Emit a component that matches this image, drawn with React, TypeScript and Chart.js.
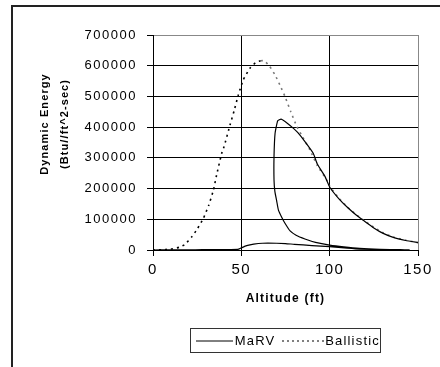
import React, { useEffect, useRef } from 'react';
import { Chart, registerables } from 'chart.js';

Chart.register(...registerables);

// MaRV trajectory (altitude in ft, dynamic energy in Btu/ft^2-sec), in path order
const marvAltitude = [
  150, 143, 136, 130, 125, 119, 115, 110, 105, 100, 97.4, 93, 90.7, 86, 82, 79.5, 76, 72.5,
  70.6, 69.1, 68.5, 68.5, 69, 70, 71, 73, 74.7, 77.6, 81, 86, 92, 100, 108, 117, 128.5, 140, 145,
  130, 117, 110, 100, 90, 80, 75, 70, 62, 57, 53, 50, 48, 40, 28, 20, 10, 0,
];
const marvEnergy = [
  24000, 31000, 41000, 55000, 72000, 97000, 114000, 139000, 168000, 205000, 239000, 280000, 315000,
  353000, 382000, 396000, 413000, 426000, 421000, 380000, 304000, 228000, 190000, 160000, 130000,
  105000, 87000, 62000, 48000, 36000, 25000, 16000, 10000, 5000, 2000, 1000, 500,
  1500, 3000, 6000, 11000, 14500, 18500, 21000, 22000, 22000, 19000, 14000, 7000, 2000, 1500, 1000,
  500, 200, 0,
];

// Ballistic trajectory
const ballisticAltitude = [
  0, 5, 10, 15, 18, 22, 25, 28.5, 31.5, 34.2, 36, 38.9, 40.2, 43.6, 46, 48.3, 51.1, 54.9, 58.3, 61,
  63, 66, 69.1, 72, 74.7, 78, 81.4, 84, 88.9, 93, 98.3, 100, 105, 110, 115, 119, 125, 130, 136, 143,
  150,
];
const ballisticEnergy = [
  0, 800, 3000, 9000, 18000, 43000, 68000, 103000, 145000, 195000, 244000, 315000, 336000, 407000,
  455000, 505000, 554000, 592000, 611000, 616000, 616000, 598000, 570000, 535000, 500000, 450000,
  402000, 375000, 325000, 275000, 228000, 208000, 170000, 140000, 115000, 98000, 74000, 57000, 42000,
  32000, 24000,
];

const xTickValues = [0, 50, 100, 150];
const yTickValues = [0, 100000, 200000, 300000, 400000, 500000, 600000, 700000];

const seriesNames = ['MaRV', 'Ballistic'];
const xTitle = 'Altitude (ft)';
const yTitleLines = ['Dynamic Energy', '(Btu//ft^2-sec)'];

const FONT = "Arial, 'Liberation Sans', sans-serif";

const titlePlugin = {
  id: 'axisTitles',
  beforeDraw(chart: any) {
    chart.ctx.letterSpacing = '1.5px';
  },
  afterDraw(chart: any) {
    const { ctx, chartArea } = chart;
    ctx.save();
    ctx.fillStyle = '#000';
    ctx.textAlign = 'center';
    ctx.textBaseline = 'middle';
    ctx.font = `bold 12px ${FONT}`;
    ctx.letterSpacing = '1.2px';
    ctx.fillText(xTitle, (chartArea.left + chartArea.right) / 2, chartArea.bottom + 49);
    ctx.font = `bold 11px ${FONT}`;
    ctx.letterSpacing = '1.1px';
    const cy = chartArea.top + 89;
    yTitleLines.forEach((line, i) => {
      ctx.save();
      ctx.translate(45 + i * 20, cy);
      ctx.rotate(-Math.PI / 2);
      ctx.fillText(line, 0, 0);
      ctx.restore();
    });
    ctx.restore();
  },
};

export default function App() {
  const canvasRef = useRef<HTMLCanvasElement | null>(null);

  useEffect(() => {
    const canvas = canvasRef.current;
    if (!canvas) return;
    const chart = new Chart(canvas, {
      type: 'scatter',
      data: {
        datasets: [
          {
            label: seriesNames[0],
            data: marvAltitude.map((x, i) => ({ x, y: marvEnergy[i] })),
            showLine: true,
            borderColor: '#000',
            borderWidth: 1.2,
            pointRadius: 0,
            tension: 0.15,
            order: 0,
          },
          {
            label: seriesNames[1],
            data: ballisticAltitude.map((x, i) => ({ x, y: ballisticEnergy[i] })),
            showLine: true,
            borderColor: '#000',
            borderWidth: 1.6,
            borderDash: [2, 4],
            pointRadius: 0,
            tension: 0.15,
            order: 1,
            segment: {
              borderColor: (c: any) => (c.p0.parsed.x >= 61 ? '#777' : '#000'),
            },
          },
        ],
      },
      options: {
        animation: false,
        responsive: false,
        devicePixelRatio: 1,
        layout: { padding: { left: 0, top: 35, right: 22, bottom: 0 } },
        plugins: {
          legend: { display: false },
          tooltip: { enabled: false },
        },
        scales: {
          x: {
            type: 'linear',
            min: 0,
            max: 150,
            afterBuildTicks: (s: any) => {
              s.ticks = xTickValues.map((value) => ({ value }));
            },
            afterFit: (s: any) => {
              s.height = 117;
            },
            ticks: {
              color: '#000',
              font: { family: FONT, size: 15 },
              padding: 5,
              maxRotation: 0,
              callback: (v: any) => String(v),
            },
            grid: {
              color: (c: any) => (c.tick && c.tick.value === 150 ? '#888' : '#000'),
              tickColor: '#000',
              tickLength: 6,
              lineWidth: 1,
            },
            border: { color: '#000', width: 1 },
          },
          y: {
            type: 'linear',
            min: 0,
            max: 700000,
            afterBuildTicks: (s: any) => {
              s.ticks = yTickValues.map((value) => ({ value }));
            },
            afterFit: (s: any) => {
              s.width = 153;
            },
            ticks: {
              color: '#000',
              font: { family: FONT, size: 13 },
              padding: 10,
              callback: (v: any) => String(v),
            },
            grid: {
              color: (c: any) => (c.tick && c.tick.value === 700000 ? '#888' : '#000'),
              tickColor: '#000',
              tickLength: 6,
              lineWidth: 1,
            },
            border: { color: '#000', width: 1 },
          },
        },
      },
      plugins: [titlePlugin],
    } as any);
    return () => chart.destroy();
  }, []);

  const legendText: React.CSSProperties = {
    fontFamily: FONT,
    fontSize: 13,
    letterSpacing: '1.2px',
    color: '#000',
    lineHeight: '1',
  };

  return (
    <div style={{ position: 'fixed', left: 0, top: 0, width: 440, height: 367, background: '#fff', overflow: 'hidden' }}>
      <canvas ref={canvasRef} width={440} height={367} style={{ position: 'absolute', left: 0, top: 0, width: 440, height: 367 }} />
      <div
        style={{
          position: 'absolute',
          left: 11,
          top: 5,
          width: 440,
          height: 400,
          borderLeft: '2px solid #222',
          borderTop: '2px solid #222',
          pointerEvents: 'none',
        }}
      />
      <div
        style={{
          position: 'absolute',
          left: 190,
          top: 328,
          width: 191,
          height: 25,
          boxSizing: 'border-box',
          border: '1px solid #333',
          display: 'flex',
          alignItems: 'center',
          paddingLeft: 5,
        }}
      >
        <svg width={38} height={4} style={{ display: 'block' }}>
          <line x1={0} y1={2} x2={38} y2={2} stroke="#000" strokeWidth={1} />
        </svg>
        <span style={{ ...legendText, marginLeft: 2 }}>{seriesNames[0]}</span>
        <svg width={44} height={4} style={{ display: 'block', marginLeft: 6 }}>
          <line x1={0} y1={2} x2={44} y2={2} stroke="#000" strokeWidth={1} strokeDasharray="2 3" />
        </svg>
        <span style={{ ...legendText, marginLeft: 1 }}>{seriesNames[1]}</span>
      </div>
    </div>
  );
}
